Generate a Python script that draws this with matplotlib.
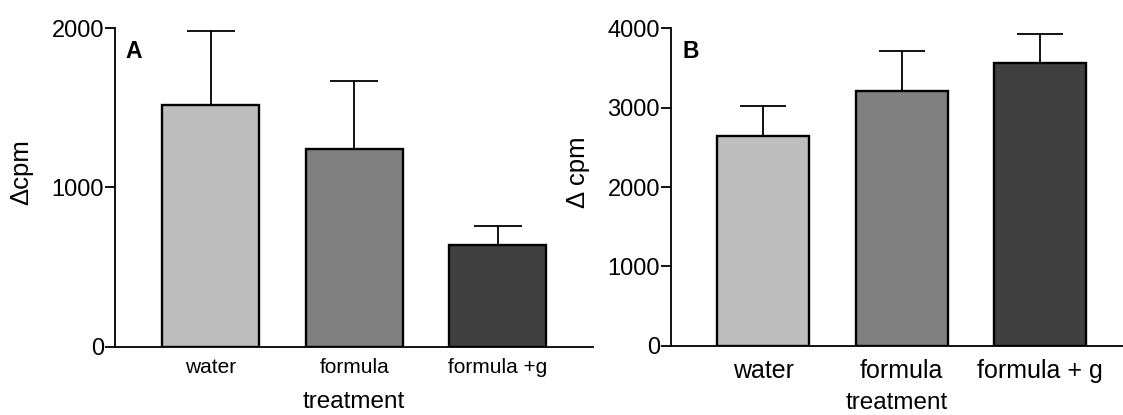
import matplotlib
matplotlib.use("Agg")
import matplotlib.pyplot as plt

plt.rcParams['font.family'] = ['Liberation Sans', 'DejaVu Sans']

categories_a = ["water", "formula", "formula +g"]
values_a = [1518, 1242, 639]
errors_a = [467, 429, 119]
yticks_a = [0, 1000, 2000]

categories_b = ["water", "formula", "formula + g"]
values_b = [2639, 3209, 3567]
errors_b = [382, 501, 365]
yticks_b = [0, 1000, 2000, 3000, 4000]

colors = ["#bebebe", "#808080", "#404040"]

fig = plt.figure(figsize=(11.23, 4.15), dpi=100)

W, H = 1123, 415
def box(l, r, b, t):
    return [l / W, 1 - b / H, (r - l) / W, (b - t) / H]

axA = fig.add_axes(box(115, 593, 346.7, 28.3))
axB = fig.add_axes(box(671, 1123, 345.7, 28.3))

def draw(ax, cats, vals, errs, yt, width, xlim, letter, letter_x,
         cat_fs, tl_pad, lab_y, capsize):
    x = list(range(len(cats)))
    ax.bar(x, vals, width=width, color=colors, edgecolor="black", linewidth=1.7, zorder=2)
    ax.errorbar(x, vals, yerr=[[0] * len(errs), errs], fmt="none", ecolor="black",
                elinewidth=1.3, capsize=capsize, capthick=1.3, zorder=1)
    ax.set_xlim(*xlim)
    ax.set_ylim(0, yt[-1])
    ax.set_yticks(yt)
    ax.set_yticklabels([str(v) for v in yt], fontsize=17)
    ax.set_xticks(x)
    ax.set_xticklabels(cats, fontsize=cat_fs)
    ax.tick_params(axis="x", length=0, pad=tl_pad)
    ax.tick_params(axis="y", length=7, width=1.3, direction="out", pad=1)
    for s in ["top", "right"]:
        ax.spines[s].set_visible(False)
    for s in ["left", "bottom"]:
        ax.spines[s].set_linewidth(1.3)
    lab = ax.set_xlabel("treatment", fontsize=17.5)
    ax.xaxis.set_label_coords(0.5, lab_y)
    lab.set_va("baseline")
    ax.text(letter_x, 0.907, letter, transform=ax.transAxes, fontsize=16.5,
            fontweight="bold", va="baseline", ha="left")

draw(axA, categories_a, values_a, errors_a, yticks_a, 0.674, (-0.668, 2.663),
     "A", 0.021, 15, 8.2, -0.1916, 17.3)
draw(axB, categories_b, values_b, errors_b, yticks_b, 0.666, (-0.668, 2.602),
     "B", 0.0265, 18, 9.3, -0.201, 16.8)

fig.text(21 / W, 1 - 172 / H, "Δcpm", rotation=90, ha="center", va="center", fontsize=18.5)
fig.text(578 / W, 1 - 172.5 / H, "Δ cpm", rotation=90, ha="center", va="center", fontsize=18.5)

fig.savefig("out.png", dpi=100)
